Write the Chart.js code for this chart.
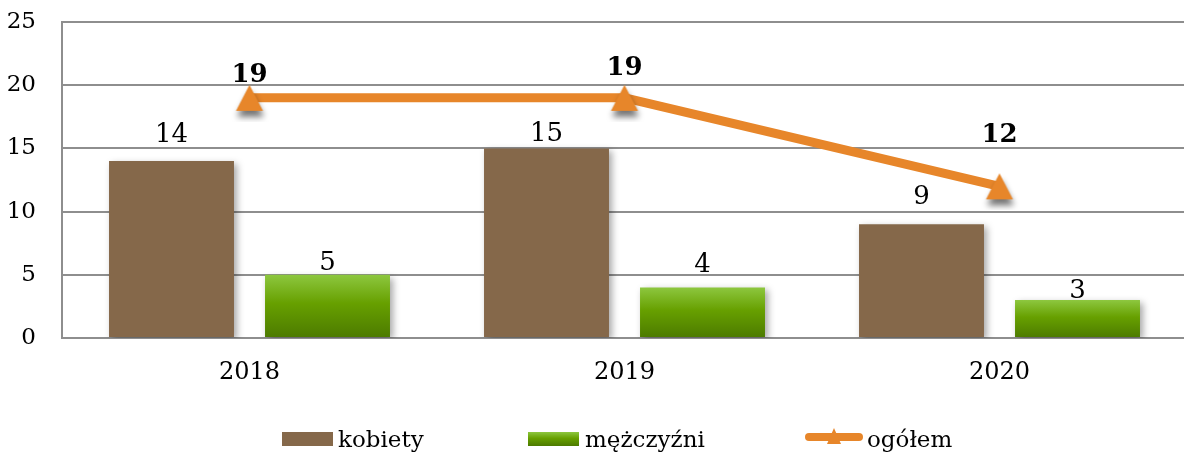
<!DOCTYPE html>
<html>
<head>
<meta charset="utf-8">
<script src="https://cdn.jsdelivr.net/npm/chart.js@4.4.1/dist/chart.umd.min.js"></script>
<style>
  html, body { margin: 0; padding: 0; background: #fff; overflow: hidden; }
  #wrap { width: 1209px; height: 452px; }
</style>
</head>
<body>
<div id="wrap"><canvas id="c" width="1209" height="452"></canvas></div>
<script>
const years = ['2018', '2019', '2020'];
const kobiety = [14, 15, 9];
const mezczyzni = [5, 4, 3];
const ogolem = [19, 19, 12];
const yTicks = [0, 5, 10, 15, 20, 25];

const BROWN = '#85684A';
const ORANGE = '#E7862A';
const GRID = '#8E8E8E';
const SERIF = '"DejaVu Serif", serif';

// distance (px) from the top of a mark to the baseline of its value label
const labelGap = {
  kobiety: [19, 7, 20],
  mezczyzni: [5, 15, 2],
  ogolem: [16, 23, 44]
};

function greenGradient(ctx, top, bottom) {
  const g = ctx.createLinearGradient(0, top, 0, bottom);
  g.addColorStop(0, '#8DC73F');
  g.addColorStop(0.45, '#67A000');
  g.addColorStop(1, '#4C7A00');
  return g;
}

// triangle marker with a soft drop shadow, drawn once onto its own canvas
function triangleSprite() {
  const cv = document.createElement('canvas');
  cv.width = 48; cv.height = 48;
  const g = cv.getContext('2d');
  g.shadowColor = 'rgba(0,0,0,0.55)';
  g.shadowBlur = 6;
  g.shadowOffsetX = 1;
  g.shadowOffsetY = 6;
  g.fillStyle = ORANGE;
  g.beginPath();
  g.moveTo(24, 11);
  g.lineTo(37.5, 37);
  g.lineTo(10.5, 37);
  g.closePath();
  g.fill();
  return cv;
}
const marker = triangleSprite();

const barShadow = {
  id: 'barShadow',
  beforeDatasetDraw(chart, args) {
    if (chart.data.datasets[args.index].type === 'line') return;
    const ctx = chart.ctx;
    ctx.save();
    ctx.shadowColor = 'rgba(0,0,0,0.35)';
    ctx.shadowBlur = 7;
    ctx.shadowOffsetX = 3;
    ctx.shadowOffsetY = 3;
  },
  afterDatasetDraw(chart, args) {
    if (chart.data.datasets[args.index].type === 'line') return;
    chart.ctx.restore();
  }
};

const valueLabels = {
  id: 'valueLabels',
  afterDatasetsDraw(chart) {
    const ctx = chart.ctx;
    chart.data.datasets.forEach((ds, i) => {
      const meta = chart.getDatasetMeta(i);
      const gaps = labelGap[ds.key];
      ctx.save();
      ctx.font = (ds.type === 'line' ? 'bold ' : '') + '26px ' + SERIF;
      ctx.fillStyle = '#000';
      ctx.textAlign = 'center';
      ctx.textBaseline = 'alphabetic';
      meta.data.forEach((el, j) => {
        ctx.fillText(String(ds.data[j]), el.x, el.y - gaps[j]);
      });
      ctx.restore();
    });
  }
};

const bottomLegend = {
  id: 'bottomLegend',
  afterDraw(chart) {
    const ctx = chart.ctx;
    const ds = chart.data.datasets;
    ctx.save();
    ctx.font = '23px ' + SERIF;
    ctx.textBaseline = 'alphabetic';

    ctx.fillStyle = BROWN;
    ctx.fillRect(282, 432, 51, 14);
    ctx.fillStyle = '#000';
    ctx.fillText(ds[0].label, 338, 447);

    ctx.fillStyle = greenGradient(ctx, 432, 446);
    ctx.fillRect(528, 432, 51, 14);
    ctx.fillStyle = '#000';
    ctx.fillText(ds[1].label, 585, 447);

    ctx.strokeStyle = ORANGE;
    ctx.lineWidth = 8;
    ctx.lineCap = 'round';
    ctx.beginPath();
    ctx.moveTo(809, 437);
    ctx.lineTo(859, 437);
    ctx.stroke();
    ctx.fillStyle = ORANGE;
    ctx.beginPath();
    ctx.moveTo(834, 428);
    ctx.lineTo(841, 444);
    ctx.lineTo(827, 444);
    ctx.closePath();
    ctx.fill();
    ctx.fillStyle = '#000';
    ctx.fillText(ds[2].label, 867, 447);
    ctx.restore();
  }
};

new Chart(document.getElementById('c'), {
  type: 'bar',
  data: {
    labels: years,
    datasets: [
      {
        key: 'kobiety',
        label: 'kobiety',
        data: kobiety,
        backgroundColor: BROWN,
        categoryPercentage: 0.832,
        barPercentage: 0.801,
        order: 1
      },
      {
        key: 'mezczyzni',
        label: 'mężczyźni',
        data: mezczyzni,
        backgroundColor: (c) => {
          const chart = c.chart;
          const y = chart.scales.y;
          if (!chart.chartArea || !y || c.type !== 'data') return '#67A000';
          return greenGradient(chart.ctx, y.getPixelForValue(c.raw), y.getPixelForValue(0));
        },
        categoryPercentage: 0.832,
        barPercentage: 0.801,
        order: 1
      },
      {
        key: 'ogolem',
        label: 'ogółem',
        type: 'line',
        data: ogolem,
        borderColor: ORANGE,
        backgroundColor: ORANGE,
        borderWidth: 9,
        tension: 0,
        pointStyle: marker,
        pointRadius: 13,
        pointHoverRadius: 13,
        order: 0
      }
    ]
  },
  options: {
    responsive: false,
    animation: false,
    devicePixelRatio: 1,
    layout: { padding: { top: 18, right: 3, left: 0, bottom: 0 } },
    plugins: {
      legend: { display: false },
      tooltip: { enabled: false }
    },
    scales: {
      x: {
        grid: { display: false, drawTicks: false },
        border: { display: true, color: GRID, width: 2 },
        ticks: { color: '#000', font: { family: SERIF, size: 24 }, padding: 20 },
        afterFit(s) {
          s.height = 114;
          s.paddingLeft = 0;
          s.paddingRight = 0;
        }
      },
      y: {
        min: 0,
        max: 25,
        afterBuildTicks(s) { s.ticks = yTicks.map(v => ({ value: v })); },
        grid: { color: GRID, lineWidth: 2, drawTicks: false },
        border: { display: true, color: GRID, width: 2 },
        ticks: { color: '#000', font: { family: SERIF, size: 23 }, padding: 26 },
        afterFit(s) {
          s.width = 62;
          s.paddingTop = 0;
          s.paddingBottom = 0;
        }
      }
    }
  },
  plugins: [barShadow, valueLabels, bottomLegend]
});
</script>
</body>
</html>
